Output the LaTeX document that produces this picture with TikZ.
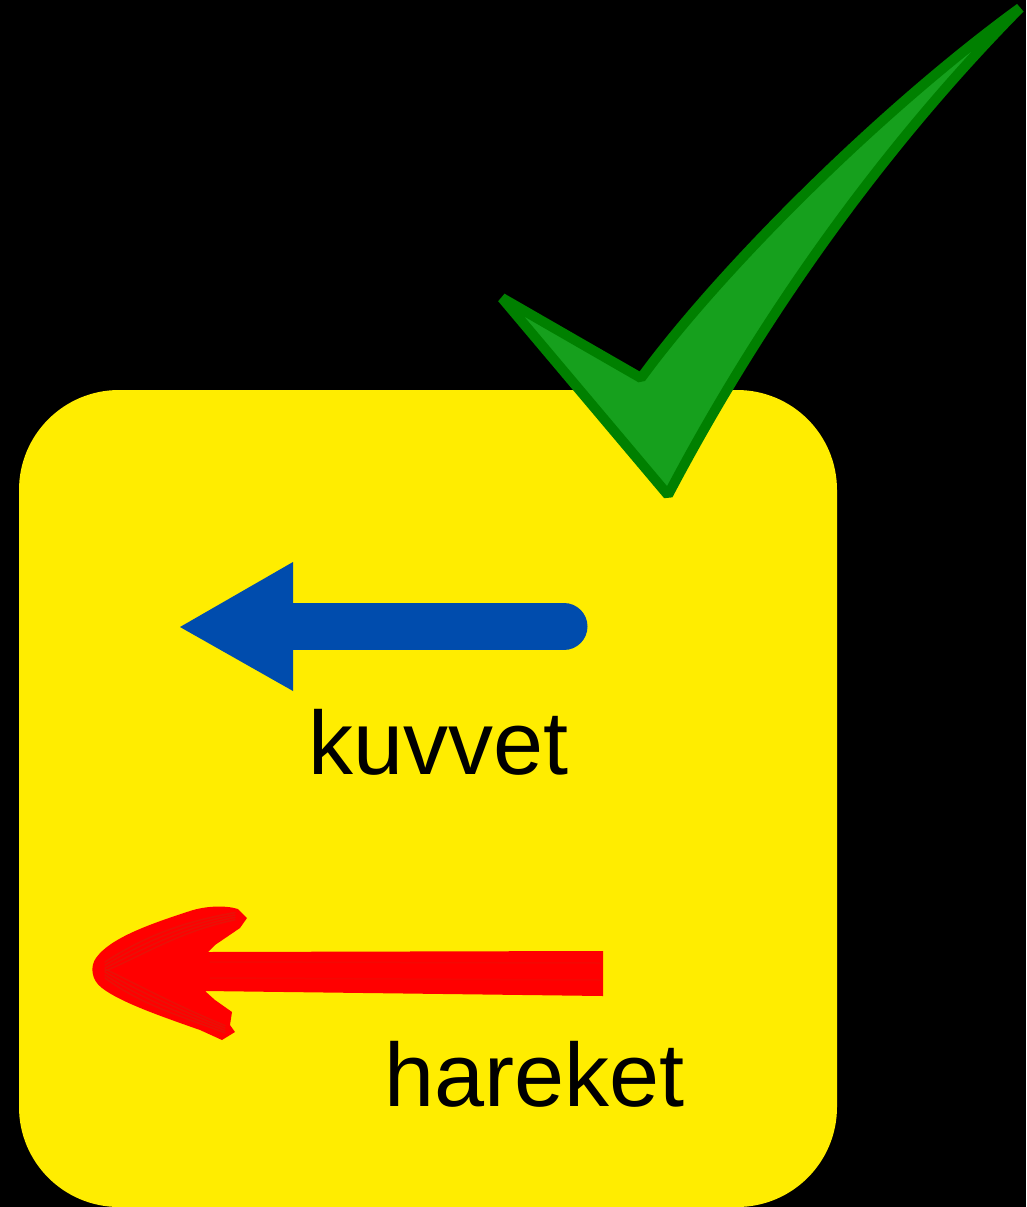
\documentclass[tikz,border=0pt]{standalone}
\usepackage{fontspec}
\setmainfont{Liberation Sans}
\definecolor{bgyellow}{RGB}{255,237,0}
\definecolor{arrowblue}{RGB}{0,76,173}
\definecolor{checkfill}{RGB}{22,160,29}
\definecolor{checkline}{RGB}{0,128,0}
\definecolor{brushred}{RGB}{255,0,0}
\definecolor{brushdark}{RGB}{225,25,10}
\tikzset{
  card/.style={fill=bgyellow, rounded corners=100pt},
  label text/.style={font=\fontsize{90}{100}\selectfont, inner sep=0pt, anchor=base west, text=black},
  checkmark/.style={fill=checkfill, draw=checkline, line width=10pt, line join=bevel},
  bluehead/.style={fill=arrowblue},
  blueshaft/.style={draw=arrowblue, line width=47pt, line cap=round},
  redbrush/.style={fill=brushred},
  brushstroke/.style={draw=brushdark, line width=1.5pt, opacity=0.7, line cap=round}
}
\begin{document}
\begin{tikzpicture}[x=1pt,y=-1pt]
\fill[black] (0,0) rectangle (1026,1207);
\useasboundingbox (0,0) rectangle (1026,1207);
% yellow card
\fill[card] (19,390) rectangle (837,1207);
% blue arrow
\draw[blueshaft] (280,626.5) -- (564,626.5);
\fill[bluehead] (180,627) -- (293,562) -- (293,691) -- cycle;
\node[label text] (kuvvet) at (308,774) {kuvvet};
% red brushed arrow
\fill[redbrush] (96,958) .. controls (110,938) and (150,924) .. (190,911)
  .. controls (205,906) and (225,905) .. (238,909) -- (247,918) -- (240,928) -- (215,945) -- (208,952)
  -- (603,951) -- (603,996) -- (205,991)
  -- (215,1000) -- (232,1012) -- (230,1025) -- (235,1032) -- (222,1040)
  -- (200,1030) .. controls (160,1016) and (120,1002) .. (102,988)
  .. controls (91,980) and (90,966) .. (96,958) -- cycle;
\foreach \d in {-6,0,6,12} {
  \draw[brushstroke] (105,965+\d*0.5) .. controls (140,945+\d) and (180,925+\d*0.5) .. (235,915+\d*0.4);
  \draw[brushstroke] (105,972+\d*0.5) .. controls (140,992+\d) and (180,1010+\d*0.5) .. (225,1028+\d*0.4);
}
\draw[brushstroke, opacity=0.35] (210,962) -- (600,963);
\draw[brushstroke, opacity=0.35] (210,978) -- (600,980);
\node[label text] (hareket) at (384,1106) {hareket};
% green check mark
\draw[checkmark] (502,298) -- (641,378)
  .. controls (720,270) and (880,110) .. (1020,8)
  .. controls (880,150) and (760,320) .. (668,495) -- cycle;
\end{tikzpicture}
\end{document}
